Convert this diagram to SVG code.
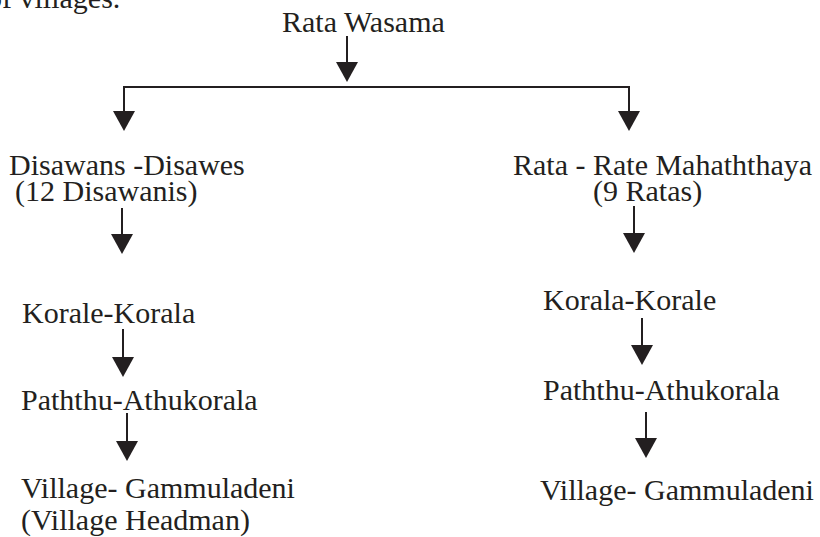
<svg xmlns="http://www.w3.org/2000/svg" width="820" height="537" viewBox="0 0 820 537">
<style>
text{font-family:"Liberation Serif","Times New Roman",serif;font-size:30px;fill:#231f20}
.c line{stroke:#231f20;stroke-width:2;fill:none}
.c line.a{marker-end:url(#ah)}
</style>
<defs>
<marker id="ah" markerUnits="userSpaceOnUse" markerWidth="22" markerHeight="24" viewBox="0 -12 22 24" refX="0" refY="0" orient="auto">
<path d="M0,-11 L20,0 L0,11 Z" fill="#231f20"/>
</marker>
</defs>
<rect width="820" height="537" fill="#fff"/>
<text x="-13" y="8">of villages.</text>
<g class="c" id="connectors">
<line class="a" x1="347" y1="36" x2="347" y2="62"/>
<line x1="123" y1="87" x2="630" y2="87"/>
<line class="a" x1="124" y1="86" x2="124" y2="111"/>
<line class="a" x1="629" y1="86" x2="629" y2="111"/>
<line class="a" x1="122" y1="208" x2="122" y2="234"/>
<line class="a" x1="634" y1="206" x2="634" y2="233"/>
<line class="a" x1="123" y1="329" x2="123" y2="357"/>
<line class="a" x1="127" y1="413" x2="127" y2="441"/>
<line class="a" x1="642" y1="318" x2="642" y2="345"/>
<line class="a" x1="646" y1="412" x2="646" y2="438"/>
</g>
<g id="rata-wasama"><text x="282" y="32">Rata Wasama</text></g>
<g id="disawans"><text x="9" y="175">Disawans -Disawes</text><text x="15" y="201">(12 Disawanis)</text></g>
<g id="rata-rate"><text x="513" y="175">Rata - Rate Mahaththaya</text><text x="593" y="201">(9 Ratas)</text></g>
<g id="korale-korala"><text x="22" y="323">Korale-Korala</text></g>
<g id="paththu-left"><text x="21" y="410">Paththu-Athukorala</text></g>
<g id="village-left"><text x="21" y="498">Village- Gammuladeni</text><text x="21" y="530">(Village Headman)</text></g>
<g id="korala-korale"><text x="543" y="310">Korala-Korale</text></g>
<g id="paththu-right"><text x="543" y="400">Paththu-Athukorala</text></g>
<g id="village-right"><text x="540" y="500">Village- Gammuladeni</text></g>
</svg>
